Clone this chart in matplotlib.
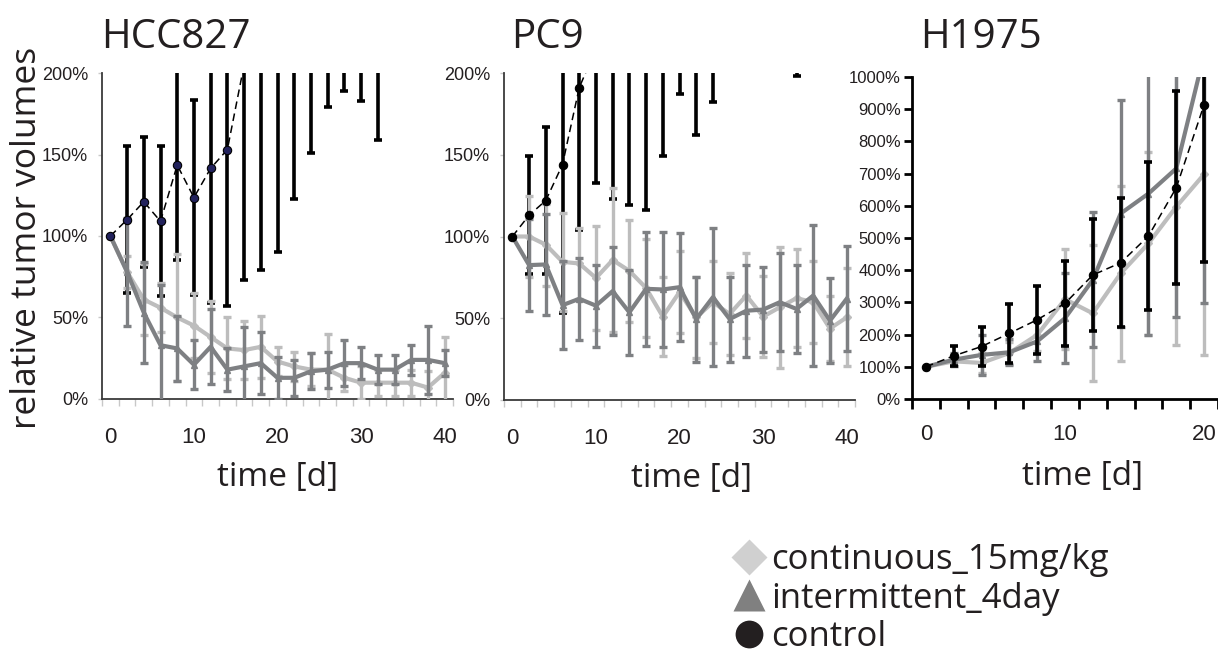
import numpy as np
import matplotlib
matplotlib.use("Agg")
import matplotlib.pyplot as plt
from matplotlib.lines import Line2D
from matplotlib.ticker import FixedLocator, PercentFormatter

# --- data: relative tumor volume (%), mean and sd per time point ---
days40 = np.arange(0, 41, 2)
days20 = np.arange(0, 21, 2)

# HCC827
hcc_cont = [100, 78, 61, 56, 50, 45, 38, 31, 30, 32, 23, 20, 18, 18, 13, 10, 10, 10, 10, 7, 16]
hcc_cont_sd = [0, 10, 22, 15, 39, 20, 22, 19, 18, 19, 9, 9, 10, 22, 8, 10, 8, 8, 8, 10, 22]
hcc_int = [100, 78, 53, 33, 31, 21, 32, 18, 20, 22, 13, 13, 17, 18, 22, 22, 18, 18, 24, 24, 22]
hcc_int_sd = [0, 33, 31, 37, 20, 15, 23, 13, 24, 19, 13, 11, 11, 11, 14, 10, 9, 9, 9, 21, 8]
hcc_ctrl_days = np.arange(0, 33, 2)
hcc_ctrl = [100, 110, 121, 109, 143.5, 123.6, 141.5, 153, 205, 240, 280, 320, 360, 400, 430, 470, 500]
hcc_ctrl_sd = [0, 45, 40, 46, 58.5, 59.6, 82.5, 96, 132, 161, 190, 197, 209, 221, 241, 287, 341]

# PC9
pc9_cont = [100, 100, 95, 84.5, 83.5, 74.6, 85.6, 79, 68.5, 51, 66, 50.5, 59.8, 52.6, 63.9, 51, 56.7, 62.3, 59.8, 43.7, 50.5]
pc9_cont_sd = [0, 25, 25, 30, 22, 32, 44, 31, 30, 24, 25, 25, 25, 25, 26, 25, 37, 30, 25, 20, 30]
pc9_int = [100, 82.5, 82.9, 58, 61.9, 57.7, 66.6, 53.6, 68, 67.6, 69, 49.5, 62.9, 49.5, 54.6, 55.3, 59.8, 55.7, 63.9, 48.5, 61.9]
pc9_int_sd = [0, 28, 31, 27, 25, 25, 27, 26, 35, 35, 33, 26, 42, 26, 28, 26, 30, 27, 43, 26, 32]
pc9_ctrl_days = np.arange(0, 35, 2)
pc9_ctrl = [100, 113, 122, 144, 191, 215, 280, 320, 360, 420, 480, 520, 560, 620, 680, 720, 780, 820]
pc9_ctrl_sd = [0, 36, 45, 91, 87, 82, 157, 201, 244, 271, 293, 358, 378, 350, 380, 400, 450, 622]

# H1975
h19_cont = [100, 117, 112, 143, 199, 310, 266, 390, 483, 597, 698]
h19_cont_sd = [0, 15, 30, 35, 50, 155, 211, 273, 283, 429, 561]
h19_int = [100, 122, 137, 145, 179, 251, 370, 576, 638, 716, 1070]
h19_int_sd = [0, 20, 62, 40, 62, 140, 210, 352, 438, 460, 773]
h19_ctrl = [100, 134, 163, 204, 246, 297, 385, 423, 506, 656, 914]
h19_ctrl_sd = [0, 32, 60, 92, 105, 133, 175, 200, 230, 300, 490]

titles = ["HCC827", "PC9", "H1975"]
legend_labels = ["continuous_15mg/kg", "intermittent_4day", "control"]

LIGHT = "#bdbdbd"
DARK = "#7e8083"
TEXT = "#231f20"
MAIN_FONT = ["Open Sans", "DejaVu Sans"]
TICK_FONT = ["Liberation Sans", "DejaVu Sans"]

W, H = 1218, 655
fig = plt.figure(figsize=(W / 100, H / 100), dpi=100)


def px_axes(left, top, right, bottom):
    return fig.add_axes([left / W, 1 - bottom / H, (right - left) / W, (bottom - top) / H])


def draw_series(ax, x, y, sd, color, marker, ms, z):
    ax.errorbar(x[1:], y[1:], yerr=sd[1:], fmt="none", ecolor=color, elinewidth=2.4,
                capsize=2.6, capthick=2.4, zorder=z)
    ax.plot(x, y, color=color, lw=3, marker=marker, ms=ms, zorder=z + 0.5)


def draw_control(ax, x, y, sd, face, z_bars, z_line):
    ax.errorbar(x[1:], y[1:], yerr=sd[1:], fmt="none", ecolor="black", elinewidth=2.6,
                capsize=2.6, capthick=2.6, zorder=z_bars)
    ax.plot(x, y, color="black", lw=1.1, dashes=(5, 3), marker="o", ms=6,
            mfc=face, mec="black", mew=0.8, zorder=z_line)


def style_axes(ax, xmax, ymax, ystep, heavy):
    ax.set_xlim(-1, xmax + 1)
    ax.set_ylim(0, ymax)
    for s in ["top", "right"]:
        ax.spines[s].set_visible(False)
    col = "black" if heavy else "#3a3a3a"
    for s in ["left", "bottom"]:
        ax.spines[s].set_color(col)
        ax.spines[s].set_linewidth(2.0 if heavy else 1.3)
    ax.xaxis.set_major_locator(FixedLocator(np.arange(0, xmax + 1, 10)))
    ax.xaxis.set_minor_locator(FixedLocator(np.arange(-1, xmax + 2, 2)))
    ax.yaxis.set_major_locator(FixedLocator(np.arange(0, ymax + 1, ystep)))
    ax.yaxis.set_major_formatter(PercentFormatter(xmax=100, decimals=0))
    tcol = "black" if heavy else "#c8c8c8"
    ax.tick_params(axis="x", which="major", length=0, pad=18 if heavy else 20)
    ax.tick_params(axis="x", which="minor", length=7 if heavy else 5,
                   width=2 if heavy else 1, color=tcol, direction="out")
    ax.tick_params(axis="y", which="major", length=6 if heavy else 3,
                   width=2 if heavy else 1, color=tcol, pad=2 if heavy else 7)
    for lab in ax.get_xticklabels():
        lab.set_family(TICK_FONT)
        lab.set_fontsize(16)
        lab.set_color(TEXT)
    for lab in ax.get_yticklabels():
        lab.set_family(TICK_FONT)
        lab.set_fontsize(12 if heavy else 13)
        lab.set_color(TEXT)


# HCC827
ax1 = px_axes(102, 73, 453, 399)
draw_control(ax1, hcc_ctrl_days, hcc_ctrl, hcc_ctrl_sd, "#22225c", 2, 7)
draw_series(ax1, days40, hcc_cont, hcc_cont_sd, LIGHT, "D", 4, 4)
draw_series(ax1, days40, hcc_int, hcc_int_sd, DARK, "^", 4.5, 5)
style_axes(ax1, 40, 200, 50, False)

# PC9
ax2 = px_axes(504, 73, 855, 400)
draw_control(ax2, pc9_ctrl_days, pc9_ctrl, pc9_ctrl_sd, "black", 2, 7)
draw_series(ax2, days40, pc9_cont, pc9_cont_sd, LIGHT, "D", 4, 4)
draw_series(ax2, days40, pc9_int, pc9_int_sd, DARK, "^", 4.5, 5)
style_axes(ax2, 40, 200, 50, False)

# H1975
ax3 = px_axes(912, 77, 1218, 399)
draw_series(ax3, days20, h19_cont, h19_cont_sd, LIGHT, "D", 4, 2)
draw_series(ax3, days20, h19_int, h19_int_sd, DARK, "^", 4.5, 3)
draw_control(ax3, days20, h19_ctrl, h19_ctrl_sd, "black", 5, 6)
style_axes(ax3, 20, 1000, 100, True)

# titles and x labels
for ax, title, tx, lx in [(ax1, titles[0], 101, 0.5), (ax2, titles[1], 511, 0.533),
                          (ax3, titles[2], 920, 0.556)]:
    fig.text(tx / W, 1 - 48 / H, title, family=MAIN_FONT, fontsize=29,
             color=TEXT, ha="left", va="baseline")
    ax.set_xlabel("time [d]", family=MAIN_FONT, fontsize=24, color=TEXT)
    ax.xaxis.set_label_coords(lx, -0.19)

fig.text(27 / W, 1 - 238 / H, "relative tumor volumes", rotation=90, family=MAIN_FONT,
         fontsize=25.5, color=TEXT, ha="center", va="center")

# legend
handles = [
    Line2D([], [], ls="none", marker="D", ms=18, mfc="#d0d0d0", mec="none"),
    Line2D([], [], ls="none", marker="^", ms=23, mfc="#808080", mec="none"),
    Line2D([], [], ls="none", marker="o", ms=20, mfc=TEXT, mec="none"),
]
fig.legend(handles, legend_labels, loc="upper left", bbox_to_anchor=(714 / W, 1 - 526 / H),
           frameon=False, borderpad=0, handlelength=1.0, handletextpad=0.15,
           labelspacing=0.12, prop={"family": MAIN_FONT, "size": 25}, labelcolor=TEXT)

fig.savefig("out.png", dpi=100)
